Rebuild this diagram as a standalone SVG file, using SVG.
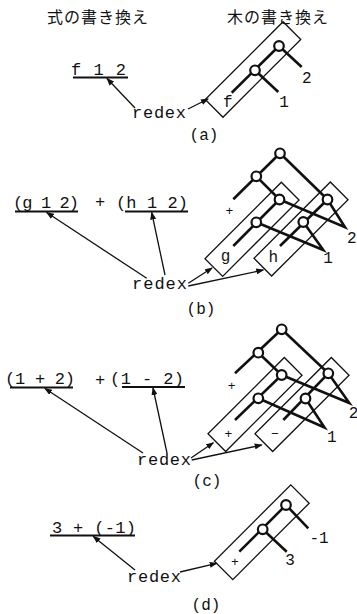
<svg xmlns="http://www.w3.org/2000/svg" width="357" height="614" viewBox="0 0 357 614">
<style>
.mono{font-family:"Liberation Mono","DejaVu Sans Mono",monospace;font-size:17px;fill:#111}
.lbl{font-family:"Liberation Mono","DejaVu Sans Mono",monospace;font-size:16px;fill:#111}
.sm{font-family:"Liberation Mono","DejaVu Sans Mono",monospace;font-size:13px;fill:#111}
.jp{font-family:"Noto Sans CJK JP",sans-serif;font-size:16px;fill:#111}
.ul{stroke:#111;stroke-width:2;fill:none}
.box{fill:none;stroke:#111;stroke-width:1.3}
.edge{stroke:#111;stroke-width:2.6;fill:none;stroke-linecap:butt}
.nd{fill:#fff;stroke:#111;stroke-width:2.2}
.arr{stroke:#111;stroke-width:1.3;fill:none;marker-end:url(#ah)}
</style>
<defs>
<marker id="ah" markerUnits="userSpaceOnUse" markerWidth="8" markerHeight="6" refX="7" refY="3" orient="auto">
<path d="M0,0 L8,3 L0,6 z" fill="#111"/>
</marker>
</defs>
<rect width="357" height="614" fill="#fff"/>

<g id="titles">
<text class="jp" x="47" y="23" textLength="101">式の書き換え</text>
<text class="jp" x="227" y="23" textLength="101">木の書き換え</text>
</g>

<!-- (a) -->
<g id="expr-a">
<text class="mono" x="71" y="75" textLength="55">f 1 2</text>
<line class="ul" x1="73" y1="77.5" x2="128" y2="77.5"/>
</g>
<g id="redex-a"><text class="mono" x="132" y="118" textLength="54">redex</text></g>
<g id="tree-a">
<rect class="box" x="-55" y="-12.5" width="110" height="25" transform="translate(253,69.5) rotate(-45)"/>
<line class="edge" x1="231.7" y1="92.7" x2="279" y2="46"/>
<line class="edge" x1="279" y1="46" x2="301.7" y2="67"/>
<line class="edge" x1="255" y1="70.3" x2="278.3" y2="92"/>
<circle class="nd" cx="279" cy="46" r="4.8"/>
<circle class="nd" cx="255" cy="70.3" r="4.8"/>
<text class="lbl" x="227.7" y="107" text-anchor="middle">f</text>
<text class="lbl" x="284" y="107" text-anchor="middle">1</text>
<text class="lbl" x="306.7" y="83" text-anchor="middle">2</text>
</g>
<g id="cap-a"><text class="lbl" x="204" y="140" text-anchor="middle">(a)</text></g>

<!-- (b) -->
<g id="expr-b">
<text class="mono" x="13" y="208" textLength="66">(g 1 2)</text>
<line class="ul" x1="15" y1="211.5" x2="78" y2="211.5"/>
<text class="mono" x="100" y="207" text-anchor="middle">+</text>
<text class="mono" x="116" y="208" textLength="72">(h 1 2)</text>
<line class="ul" x1="125" y1="211.5" x2="188" y2="211.5"/>
</g>
<g id="redex-b"><text class="mono" x="132" y="289" textLength="55">redex</text></g>
<g id="tree-b">
<rect class="box" x="-54" y="-12.5" width="108" height="25" transform="translate(252,229.3) rotate(-45)"/>
<rect class="box" x="-54" y="-12.5" width="108" height="25" transform="translate(301,229) rotate(-45)"/>
<line class="edge" x1="233.3" y1="199.3" x2="280" y2="153.3"/>
<line class="edge" x1="280" y1="153.3" x2="327.5" y2="199.5"/>
<line class="edge" x1="256.3" y1="176.3" x2="279.5" y2="199.5"/>
<line class="edge" x1="233.3" y1="246" x2="279.5" y2="199.5"/>
<line class="edge" x1="280" y1="246" x2="327.5" y2="199.5"/>
<polyline class="edge" points="279.5,199.5 345,227.3 327.5,199.5"/>
<polyline class="edge" points="256.3,222.3 323.3,250 303.3,222"/>
<circle class="nd" cx="280" cy="153.3" r="4.8"/>
<circle class="nd" cx="256.3" cy="176.3" r="4.8"/>
<circle class="nd" cx="279.5" cy="199.5" r="4.8"/>
<circle class="nd" cx="327.5" cy="199.5" r="4.8"/>
<circle class="nd" cx="256.3" cy="222.3" r="4.8"/>
<circle class="nd" cx="303.3" cy="222" r="4.8"/>
<text class="sm" x="229.3" y="215" text-anchor="middle">+</text>
<text class="lbl" x="225.5" y="261" text-anchor="middle">g</text>
<text class="lbl" x="273.3" y="262" text-anchor="middle">h</text>
<text class="lbl" x="328" y="263" text-anchor="middle">1</text>
<text class="lbl" x="351.7" y="242.5" text-anchor="middle">2</text>
</g>
<g id="cap-b"><text class="lbl" x="201" y="314" text-anchor="middle">(b)</text></g>

<!-- (c) -->
<g id="expr-c">
<text class="mono" x="5" y="384" textLength="70">(1 + 2)</text>
<line class="ul" x1="10" y1="387.5" x2="73" y2="387.5"/>
<text class="mono" x="100" y="385" text-anchor="middle">+</text>
<text class="mono" x="110" y="384" textLength="74">(1 - 2)</text>
<line class="ul" x1="122" y1="387" x2="185" y2="387"/>
</g>
<g id="redex-c"><text class="mono" x="137" y="465" textLength="54">redex</text></g>
<g id="tree-c">
<rect class="box" x="-54" y="-12.5" width="108" height="25" transform="translate(255,404.5) rotate(-45)"/>
<rect class="box" x="-54" y="-12.5" width="108" height="25" transform="translate(302,404.5) rotate(-45)"/>
<line class="edge" x1="235" y1="373.3" x2="281.7" y2="329.3"/>
<line class="edge" x1="281.7" y1="329.3" x2="328.3" y2="373.3"/>
<line class="edge" x1="258.3" y1="352.7" x2="281.7" y2="375"/>
<line class="edge" x1="235" y1="420" x2="281.7" y2="375"/>
<line class="edge" x1="283.3" y1="420" x2="328.3" y2="373.3"/>
<polyline class="edge" points="281.7,375 349.3,403 328.3,373.3"/>
<polyline class="edge" points="258.3,398.3 324.5,427.5 305.5,398.5"/>
<circle class="nd" cx="281.7" cy="329.3" r="4.8"/>
<circle class="nd" cx="258.3" cy="352.7" r="4.8"/>
<circle class="nd" cx="281.7" cy="375" r="4.8"/>
<circle class="nd" cx="328.3" cy="373.3" r="4.8"/>
<circle class="nd" cx="258.3" cy="398.3" r="4.8"/>
<circle class="nd" cx="305.5" cy="398.5" r="4.8"/>
<text class="sm" x="231.7" y="390" text-anchor="middle">+</text>
<text class="sm" x="228.3" y="437.5" text-anchor="middle">+</text>
<text class="sm" x="275" y="437.5" text-anchor="middle">−</text>
<text class="lbl" x="331.7" y="442" text-anchor="middle">1</text>
<text class="lbl" x="353.5" y="418" text-anchor="middle">2</text>
</g>
<g id="cap-c"><text class="lbl" x="207" y="486" text-anchor="middle">(c)</text></g>

<!-- (d) -->
<g id="expr-d">
<text class="mono" x="52" y="533" textLength="84">3 + (-1)</text>
<line class="ul" x1="50" y1="535.5" x2="135" y2="535.5"/>
</g>
<g id="redex-d"><text class="mono" x="127" y="582" textLength="54">redex</text></g>
<g id="tree-d">
<rect class="box" x="-54" y="-13" width="108" height="26" transform="translate(261.8,532.2) rotate(-45)"/>
<line class="edge" x1="239.3" y1="551.7" x2="286" y2="505"/>
<line class="edge" x1="286" y1="505" x2="308.3" y2="528.3"/>
<line class="edge" x1="262.7" y1="529.3" x2="286.7" y2="551.7"/>
<circle class="nd" cx="286" cy="505" r="4.8"/>
<circle class="nd" cx="262.7" cy="529.3" r="4.8"/>
<text class="sm" x="235" y="566" text-anchor="middle">+</text>
<text class="lbl" x="290" y="565" text-anchor="middle">3</text>
<text class="lbl" x="319" y="543" text-anchor="middle">-1</text>
</g>
<g id="cap-d"><text class="lbl" x="206" y="610" text-anchor="middle">(d)</text></g>

<g id="connectors">
<line class="arr" x1="135" y1="108" x2="107" y2="78.5"/>
<line class="arr" x1="188" y1="109" x2="208" y2="99"/>
<line class="arr" x1="146.7" y1="278.3" x2="46.7" y2="212.5"/>
<line class="arr" x1="165" y1="275" x2="151.7" y2="212.5"/>
<line class="arr" x1="188.3" y1="283.3" x2="212" y2="268"/>
<line class="arr" x1="188.3" y1="286" x2="263.3" y2="270"/>
<line class="arr" x1="143" y1="453" x2="45" y2="388.5"/>
<line class="arr" x1="167" y1="453" x2="153" y2="388"/>
<line class="arr" x1="191" y1="458" x2="213.3" y2="442.7"/>
<line class="arr" x1="191.7" y1="460" x2="261.7" y2="445"/>
<line class="arr" x1="135" y1="570" x2="93.3" y2="536.5"/>
<line class="arr" x1="180" y1="572" x2="216.7" y2="563.3"/>
</g>
</svg>
